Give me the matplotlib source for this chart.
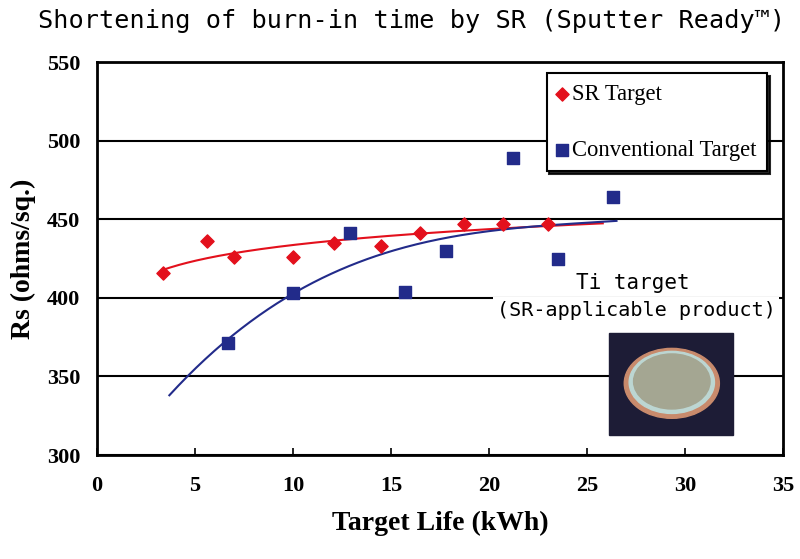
import numpy as np
import matplotlib.pyplot as plt
from matplotlib.patches import Rectangle, Ellipse

# values
sr_life = [3.4, 5.6, 7.0, 10.0, 12.1, 14.5, 16.5, 18.7, 20.7, 23.0]
sr_rs = [416, 436, 426, 426, 435, 433, 441, 447, 447, 447]

conv_life = [6.7, 10.0, 12.9, 15.7, 17.8, 21.2, 23.5, 26.3]
conv_rs = [371, 403, 441, 404, 430, 489, 425, 464]

# points
conv_trend_life = [3.7, 6.7, 10.0, 12.7, 15.5, 17.8, 20.2, 25.8, 26.5]
conv_trend_rs = [337, 376, 402, 419, 430, 438.5, 444, 448, 449]

sr_trend_range = (3.4, 25.8)

red = '#e3101c'
navy = '#222b8a'
mono = ['DejaVu Sans Mono', 'DejaVu Sans']

fig = plt.figure(figsize=(8, 5.59), dpi=100)
ax = fig.add_axes([0.121, 0.186, 0.858, 0.703])

# trend lines
b, a = np.polyfit(np.log(sr_life), sr_rs, 1)
xs = np.linspace(*sr_trend_range, 200)
ax.plot(xs, a + b * np.log(xs), color=red, lw=1.5, zorder=3)

p = np.polyfit(conv_trend_life, conv_trend_rs, 3)
xc = np.linspace(conv_trend_life[0], conv_trend_life[-1], 200)
ax.plot(xc, np.polyval(p, xc), color=navy, lw=1.5, zorder=3)

ax.scatter(sr_life, sr_rs, marker='D', s=45, color=red, zorder=4, label='SR Target')
ax.scatter(conv_life, conv_rs, marker='s', s=85, color=navy, zorder=4, label='Conventional Target')

ax.set_xlim(0, 35)
ax.set_ylim(300, 550)
ax.set_xticks(np.arange(0, 36, 5))
ax.set_yticks(np.arange(300, 551, 50))
ax.yaxis.grid(True, color='black', lw=1.5)
ax.set_axisbelow(True)
for s in ax.spines.values():
    s.set_linewidth(2)
    s.set_zorder(7)
ax.tick_params(axis='x', direction='in', length=5, width=1.2, pad=15)
ax.tick_params(axis='y', length=0, pad=12)
for lbl in ax.get_xticklabels() + ax.get_yticklabels():
    lbl.set_fontfamily('Liberation Serif')
    lbl.set_fontsize(16)
    lbl.set_fontweight('bold')

ax.set_xlabel('Target Life (kWh)', family='Liberation Serif', fontsize=20, fontweight='bold', labelpad=11)
ax.set_ylabel('Rs (ohms/sq.)', family='Liberation Serif', fontsize=20, fontweight='bold', labelpad=8)

leg = ax.legend(loc='upper right', bbox_to_anchor=(0.976, 0.971), frameon=True, fancybox=False,
                shadow={'color': 'black', 'alpha': 0.85}, framealpha=1, edgecolor='black',
                prop={'family': 'Liberation Serif', 'size': 16.3}, labelspacing=1.55,
                handlelength=0.45, handletextpad=0.22, borderpad=0.45, borderaxespad=0)
leg.get_frame().set_linewidth(1.5)
leg.set_zorder(8)

# product note
ax.text(27.33, 409.5, 'Ti target', ha='center', va='center', fontsize=15, family=mono, zorder=5)
ax.text(27.5, 392, '(SR-applicable product)', ha='center', va='center', fontsize=14.5, family=mono,
        zorder=5, bbox=dict(facecolor='white', edgecolor='none', pad=2.5))

# sketch of the target photo
ax.add_patch(Rectangle((26.14, 312.7), 6.29, 64.7, color='#1d1c36', zorder=5))
ax.add_patch(Ellipse((29.32, 345.6), 4.85, 44.5, color='#c88a6c', zorder=6))
ax.add_patch(Ellipse((29.32, 346.2), 4.35, 39.5, color='#bcd6d2', zorder=6))
ax.add_patch(Ellipse((29.32, 346.8), 3.9, 35.0, color='#a4a692', zorder=6))

fig.text(0.515, 0.962, 'Shortening of burn-in time by SR (Sputter Ready\u2122)', ha='center', va='center',
         fontsize=18.2, family=mono)

plt.savefig('out.png', dpi=100)
